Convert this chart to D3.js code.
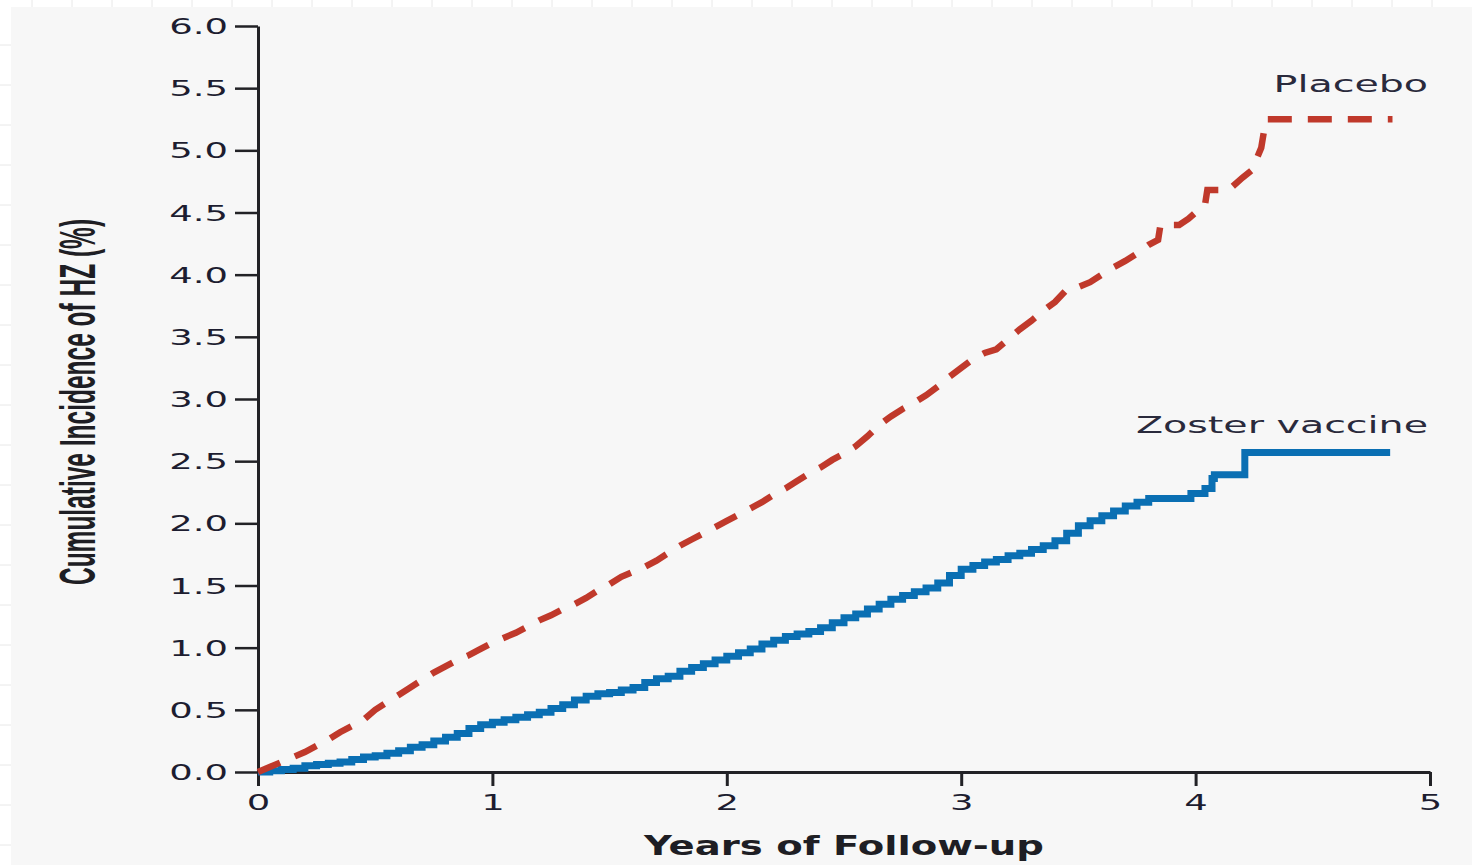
<!DOCTYPE html>
<html>
<head>
<meta charset="utf-8">
<script src="https://cdn.jsdelivr.net/npm/d3@7"></script>
<style>
  html, body { margin: 0; padding: 0; background: #ffffff; }
  svg { display: block; }
</style>
</head>
<body>
<svg id="chart" width="1472" height="865"></svg>
<script>
// Kaplan-Meier cumulative incidence of herpes zoster (%), by years of follow-up
const placeboTime = [0.00,0.05,0.10,0.15,0.20,0.25,0.30,0.35,0.40,0.45,0.50,0.55,0.60,0.65,0.70,0.75,0.80,0.85,0.90,0.95,
  1.00,1.05,1.10,1.15,1.20,1.25,1.30,1.35,1.40,1.45,1.50,1.55,1.60,1.65,1.70,1.75,1.80,1.85,1.90,1.95,
  2.00,2.05,2.10,2.15,2.20,2.25,2.30,2.35,2.40,2.45,2.50,2.55,2.60,2.65,2.70,2.75,2.80,2.85,2.90,2.95,
  3.00,3.05,3.10,3.15,3.20,3.25,3.30,3.35,3.40,3.45,3.50,3.55,3.60,3.65,3.70,3.75,3.80,3.84,3.85,3.93,
  3.97,4.00,4.04,4.05,4.14,4.20,4.24,4.28,4.30,4.84];
const placeboRisk = [0.00,0.04,0.08,0.12,0.16,0.21,0.26,0.32,0.37,0.42,0.50,0.56,0.62,0.68,0.74,0.80,0.85,0.90,0.94,0.99,
  1.04,1.08,1.12,1.17,1.22,1.26,1.31,1.35,1.40,1.46,1.51,1.57,1.61,1.65,1.70,1.76,1.82,1.87,1.92,1.97,
  2.02,2.07,2.12,2.17,2.23,2.28,2.34,2.40,2.45,2.51,2.56,2.62,2.70,2.79,2.86,2.92,2.97,3.03,3.10,3.18,
  3.25,3.32,3.37,3.40,3.48,3.56,3.63,3.71,3.78,3.88,3.90,3.94,4.00,4.06,4.11,4.17,4.24,4.28,4.40,4.40,
  4.45,4.50,4.56,4.68,4.68,4.78,4.84,5.02,5.25,5.25];

const vaccineTime = [0.00,0.05,0.10,0.15,0.20,0.25,0.30,0.35,0.40,0.45,0.50,0.55,0.60,0.65,0.70,0.75,0.80,0.85,0.90,0.95,
  1.00,1.05,1.10,1.15,1.20,1.25,1.30,1.35,1.40,1.45,1.50,1.55,1.60,1.65,1.70,1.75,1.80,1.85,1.90,1.95,
  2.00,2.05,2.10,2.15,2.20,2.25,2.30,2.35,2.40,2.45,2.50,2.55,2.60,2.65,2.70,2.75,2.80,2.85,2.90,2.95,
  3.00,3.05,3.10,3.15,3.20,3.25,3.30,3.35,3.40,3.45,3.50,3.55,3.60,3.65,3.70,3.75,3.80,3.98,4.04,4.07,
  4.08,4.21,4.83];
const vaccineRisk = [0.00,0.01,0.02,0.03,0.05,0.06,0.07,0.08,0.10,0.12,0.13,0.15,0.17,0.20,0.22,0.25,0.28,0.31,0.35,0.38,
  0.40,0.42,0.44,0.46,0.48,0.51,0.54,0.58,0.61,0.63,0.64,0.66,0.68,0.72,0.75,0.77,0.81,0.84,0.87,0.90,
  0.93,0.96,0.99,1.03,1.06,1.09,1.11,1.13,1.16,1.20,1.24,1.27,1.31,1.35,1.39,1.42,1.45,1.48,1.52,1.58,
  1.63,1.66,1.69,1.71,1.74,1.76,1.79,1.82,1.86,1.92,1.98,2.02,2.06,2.10,2.14,2.17,2.20,2.24,2.28,2.36,
  2.39,2.57,2.57];

const xTicks = [0, 1, 2, 3, 4, 5];
const yTicks = [0.0, 0.5, 1.0, 1.5, 2.0, 2.5, 3.0, 3.5, 4.0, 4.5, 5.0, 5.5, 6.0];
const seriesLabels = ["Placebo", "Zoster vaccine"];

const svg = d3.select("#chart");
const W = 1472, H = 865;

// page backdrop: faint sheet grid in the margins, grey panel behind the plot
const bg = svg.append("g");
bg.append("rect").attr("width", W).attr("height", H).attr("fill", "#ffffff");
for (let gx = 32; gx < W; gx += 40) {
  bg.append("line").attr("x1", gx).attr("x2", gx).attr("y1", 0).attr("y2", 7)
    .attr("stroke", "#e8e8e8").attr("stroke-width", 1);
}
for (let gy = 45; gy < H; gy += 40) {
  bg.append("line").attr("x1", 0).attr("x2", 11).attr("y1", gy).attr("y2", gy)
    .attr("stroke", "#e8e8e8").attr("stroke-width", 1);
}
bg.append("rect").attr("x", 11).attr("y", 7).attr("width", W - 11).attr("height", H - 7)
  .attr("fill", "#f7f7f7");

const x = d3.scaleLinear().domain([0, 5]).range([258, 1430]);
const y = d3.scaleLinear().domain([0, 6]).range([772, 26]);

const ink = "#222226";
const tickFont = "'DejaVu Sans', Verdana, sans-serif";

// y axis
const yAxis = svg.append("g")
  .attr("transform", `translate(${x(0)},0)`)
  .call(d3.axisLeft(y).tickValues(yTicks).tickFormat(d3.format(".1f")).tickSize(23).tickSizeOuter(0));
yAxis.select(".domain").attr("stroke", ink).attr("stroke-width", 3);
yAxis.selectAll(".tick line").attr("stroke", ink).attr("stroke-width", 2.5);
yAxis.selectAll(".tick text")
  .attr("x", 0).attr("dy", null).attr("y", 0)
  .attr("dominant-baseline", "central")
  .attr("text-anchor", "end")
  .attr("transform", "translate(-30,0) scale(1.68,1)")
  .attr("fill", "#1d1d30")
  .style("font-family", tickFont).style("font-size", "22px");

// x axis
const xAxis = svg.append("g")
  .attr("transform", `translate(0,${y(0)})`)
  .call(d3.axisBottom(x).tickValues(xTicks).tickFormat(d3.format("d")).tickSize(14).tickSizeOuter(0));
xAxis.select(".domain").attr("stroke", ink).attr("stroke-width", 3);
xAxis.selectAll(".tick line").attr("stroke", ink).attr("stroke-width", 3);
xAxis.selectAll(".tick text")
  .attr("y", 0).attr("dy", null).attr("x", 0)
  .attr("text-anchor", "middle")
  .attr("transform", "translate(0,38) scale(1.68,1)")
  .attr("fill", "#1d1d30")
  .style("font-family", tickFont).style("font-size", "22px");

// axis titles
svg.append("text")
  .attr("transform", "translate(95,402) rotate(-90) scale(0.49,1)")
  .attr("text-anchor", "middle")
  .attr("fill", "#1e1e24")
  .style("font-family", "'Liberation Sans', Arial, sans-serif")
  .style("font-weight", "bold")
  .style("font-size", "50px")
  .text("Cumulative Incidence of HZ (%)");

svg.append("text")
  .attr("transform", `translate(${(x(0) + x(5)) / 2},855) scale(1.43,1)`)
  .attr("text-anchor", "middle")
  .attr("fill", "#1e1e24")
  .style("font-family", tickFont)
  .style("font-weight", "bold")
  .style("font-size", "27px")
  .text("Years of Follow-up");

// curves
const stepLine = d3.line()
  .x(d => x(d[0]))
  .y(d => y(d[1]))
  .curve(d3.curveStepAfter);

const traceLine = d3.line()
  .x(d => x(d[0]))
  .y(d => y(d[1]));

const placebo = d3.zip(placeboTime, placeboRisk);
const vaccine = d3.zip(vaccineTime, vaccineRisk);

svg.append("path")
  .datum(vaccine)
  .attr("d", stepLine)
  .attr("fill", "none")
  .attr("stroke", "#0a6fb3")
  .attr("stroke-width", 7);

svg.append("path")
  .datum(placebo)
  .attr("d", traceLine)
  .attr("fill", "none")
  .attr("stroke", "#c0392b")
  .attr("stroke-width", 6.5)
  .attr("stroke-dasharray", "24,16");

// series labels
svg.append("text")
  .attr("transform", "translate(1428,92) scale(1.72,1)")
  .attr("text-anchor", "end")
  .attr("fill", "#2a2a3c")
  .style("font-family", tickFont).style("font-size", "23px")
  .text(seriesLabels[0]);

svg.append("text")
  .attr("transform", "translate(1428,433) scale(1.72,1)")
  .attr("text-anchor", "end")
  .attr("fill", "#2a2a3c")
  .style("font-family", tickFont).style("font-size", "23px")
  .text(seriesLabels[1]);
</script>
</body>
</html>
